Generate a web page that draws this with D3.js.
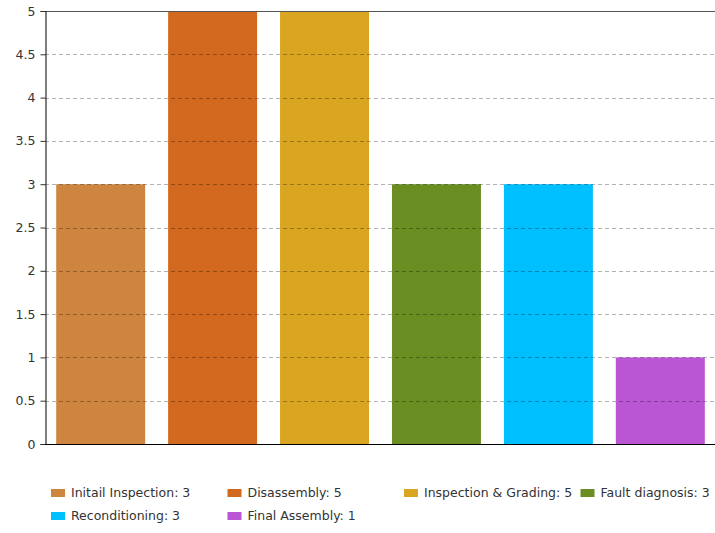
<!DOCTYPE html>
<html>
<head>
<meta charset="utf-8">
<script src="https://cdn.jsdelivr.net/npm/d3@7"></script>
<style>
  html, body { margin: 0; padding: 0; background: #fff; }
  svg { display: block; }
  text { font-family: "DejaVu Sans", Verdana, sans-serif; fill: #333; }
</style>
</head>
<body>
<svg id="chart" width="715" height="533"></svg>
<script>
// Process steps and their counts
const categories = ["Initail Inspection", "Disassembly", "Inspection & Grading", "Fault diagnosis", "Reconditioning", "Final Assembly"];
const values = [3, 5, 5, 3, 3, 1];
const colors = ["#CD853F", "#D2691E", "#DAA520", "#6B8E23", "#00BFFF", "#BA55D3"];
const yTicks = [0, 0.5, 1, 1.5, 2, 2.5, 3, 3.5, 4, 4.5, 5];

const svg = d3.select("#chart");
const margin = { left: 45, top: 11, right: 716, bottom: 444 };

const x = d3.scaleBand()
  .domain(categories)
  .range([margin.left, margin.right])
  .paddingInner(0.205)
  .paddingOuter(0.1);

const y = d3.scaleLinear()
  .domain([0, 5])
  .range([margin.bottom, margin.top]);

// Bars
svg.append("g")
  .selectAll("rect")
  .data(categories)
  .join("rect")
  .attr("x", d => x(d))
  .attr("width", x.bandwidth())
  .attr("y", (d, i) => y(values[i]))
  .attr("height", (d, i) => y(0) - y(values[i]))
  .attr("fill", (d, i) => colors[i]);

// Dashed grid lines drawn over the bars
svg.append("g")
  .selectAll("line")
  .data(yTicks.filter(t => t > 0 && t < 5))
  .join("line")
  .attr("x1", margin.left)
  .attr("x2", margin.right)
  .attr("y1", d => Math.round(y(d)) + 0.5)
  .attr("y2", d => Math.round(y(d)) + 0.5)
  .attr("stroke", "#000")
  .attr("stroke-opacity", 0.3)
  .attr("stroke-dasharray", "4,3");

// Top frame line
svg.append("line")
  .attr("x1", margin.left).attr("x2", margin.right)
  .attr("y1", y(5) + 0.5).attr("y2", y(5) + 0.5)
  .attr("stroke", "#555");

// Left axis
const yAxis = d3.axisLeft(y)
  .tickValues(yTicks)
  .tickFormat(d3.format("~g"))
  .tickSize(5)
  .tickPadding(5);

const gy = svg.append("g")
  .attr("transform", `translate(${margin.left + 0.5},0)`)
  .call(yAxis);
gy.select(".domain").attr("stroke", "#000");
gy.selectAll(".tick line").attr("stroke", "#333");
gy.selectAll(".tick text")
  .style("font-family", "'DejaVu Sans', Verdana, sans-serif")
  .style("font-size", "12.5px")
  .attr("fill", "#333");

// Bottom axis line
svg.append("line")
  .attr("x1", margin.left).attr("x2", margin.right)
  .attr("y1", y(0) + 0.5).attr("y2", y(0) + 0.5)
  .attr("stroke", "#000");

// Legend
const legendCols = 4, colWidth = 176.5, legendX = 51, legendY = 493, rowGap = 23;
const legend = svg.append("g")
  .selectAll("g")
  .data(categories)
  .join("g")
  .attr("transform", (d, i) => `translate(${legendX + (i % legendCols) * colWidth},${legendY + Math.floor(i / legendCols) * rowGap})`);

legend.append("rect")
  .attr("x", 0).attr("y", -4)
  .attr("width", 14).attr("height", 8)
  .attr("fill", (d, i) => colors[i]);

legend.append("text")
  .attr("x", 20).attr("y", 0)
  .attr("dy", "0.35em")
  .style("font-size", "12.5px")
  .text((d, i) => `${d}: ${values[i]}`);
</script>
</body>
</html>
